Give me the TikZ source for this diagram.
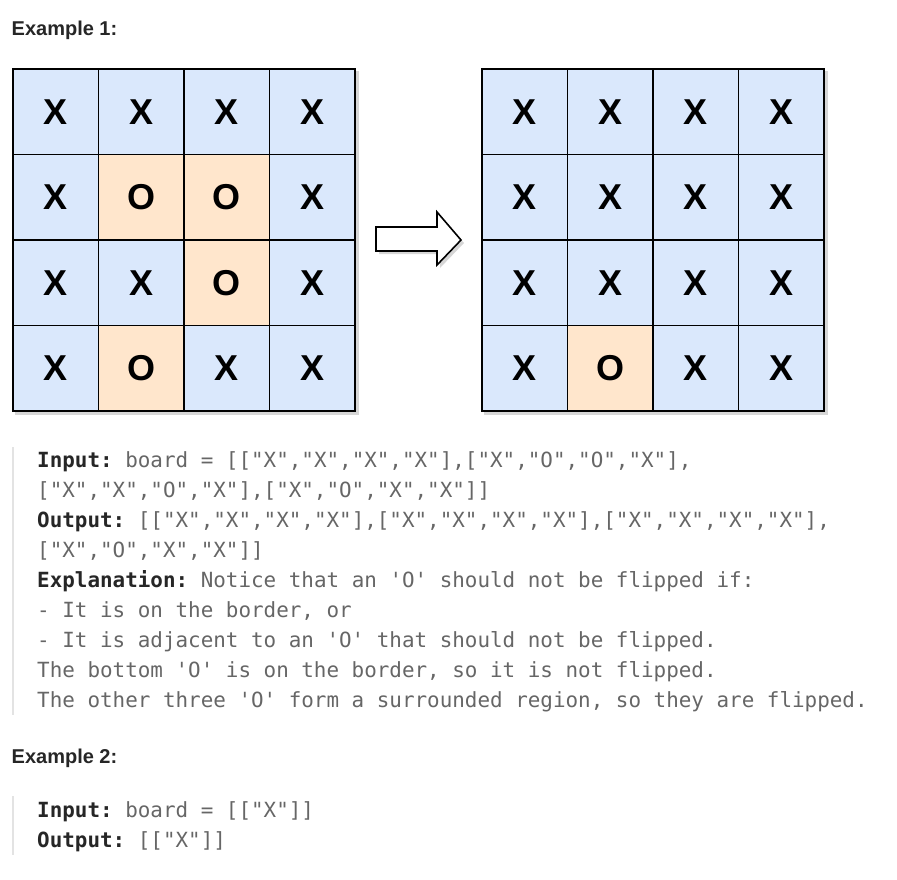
\documentclass[tikz,border=0pt]{standalone}
\usepackage{fontspec}
\setmainfont{Liberation Sans}
\setmonofont{DejaVu Sans Mono}
\usepackage{xcolor}
\usepackage{tikz}
\usetikzlibrary{positioning}
\usetikzlibrary{backgrounds}

\definecolor{boxX}{HTML}{DAE8FC}
\definecolor{boxO}{HTML}{FFE6CC}
\definecolor{codegray}{HTML}{666666}
\definecolor{labelink}{HTML}{262626}
\definecolor{quotebar}{HTML}{E3E3E3}

\newcommand{\lbl}[1]{{\bfseries\color{labelink}#1}}

\begin{document}
\begin{tikzpicture}[x=1pt, y=-1pt,
    cell/.style={draw=black, line width=1.9pt, fill=box#1, minimum size=85.5pt,
      inner sep=0pt, font=\fontsize{36}{36}\selectfont\bfseries},
    heading/.style={anchor=base west, inner sep=0pt, text=labelink,
      font=\fontsize{20}{21}\selectfont\bfseries},
    codeline/.style={anchor=base west, inner sep=0pt, text=codegray,
      font=\fontsize{20.9}{21}\selectfont\ttfamily},
    gridshadow/.style={fill=black, opacity=0.16}]

    \useasboundingbox (0, 0) rectangle (897, 879);

    \node[heading] (ex1) at (11.5, 35) {Example 1:};

    \foreach \row [count=\r] in {{X,X,X,X},{X,O,O,X},{X,X,O,X},{X,O,X,X}}
      \foreach \c [count=\k] in \row
        \node[cell=\c] (L-\r-\k) at (13+85.5*\k-42.75, 69+85.5*\r-42.75) {\c};

    \foreach \row [count=\r] in {{X,X,X,X},{X,X,X,X},{X,X,X,X},{X,O,X,X}}
      \foreach \c [count=\k] in \row
        \node[cell=\c] (R-\r-\k) at (482+85.5*\k-42.75, 69+85.5*\r-42.75) {\c};

    \begin{scope}[on background layer]
      \fill[gridshadow] ([xshift=3pt, yshift=-3pt]L-1-1.north west)
        rectangle ([xshift=3pt, yshift=-3pt]L-4-4.south east);
      \fill[gridshadow] ([xshift=3pt, yshift=-3pt]R-1-1.north west)
        rectangle ([xshift=3pt, yshift=-3pt]R-4-4.south east);
      \fill[gridshadow] (379, 230) -- (440, 230) -- (440, 215) -- (464, 243)
        -- (440, 268) -- (440, 254) -- (379, 254) -- cycle;
    \end{scope}

    \draw[line width=1.6pt, fill=white, line join=miter]
      (376, 227) -- (437, 227) -- (437, 212) -- (461, 240)
      -- (437, 265) -- (437, 251) -- (376, 251) -- cycle;

    \draw[quotebar, line width=2pt] (13, 447) -- (13, 715);

    \node[codeline] (in1) at (37, 467)
      {\lbl{Input:} board = [["X","X","X","X"],["X","O","O","X"],};
    \node[codeline] (in2) at (37, 497)
      {["X","X","O","X"],["X","O","X","X"]]};
    \node[codeline] (out1) at (37, 527)
      {\lbl{Output:} [["X","X","X","X"],["X","X","X","X"],["X","X","X","X"],};
    \node[codeline] (out2) at (37, 557)
      {["X","O","X","X"]]};
    \node[codeline] (expl) at (37, 587)
      {\lbl{Explanation:} Notice that an 'O' should not be flipped if:};
    \node[codeline] (rule1) at (37, 617) {- It is on the border, or};
    \node[codeline] (rule2) at (37, 647)
      {- It is adjacent to an 'O' that should not be flipped.};
    \node[codeline] (note1) at (37, 677)
      {The bottom 'O' is on the border, so it is not flipped.};
    \node[codeline] (note2) at (37, 707)
      {The other three 'O' form a surrounded region, so they are flipped.};

    \node[heading] (ex2) at (11.5, 763) {Example 2:};

    \draw[quotebar, line width=2pt] (13, 796) -- (13, 855);

    \node[codeline] (in3) at (37, 817) {\lbl{Input:} board = [["X"]]};
    \node[codeline] (out3) at (37, 847) {\lbl{Output:} [["X"]]};

  \end{tikzpicture}
\end{document}
